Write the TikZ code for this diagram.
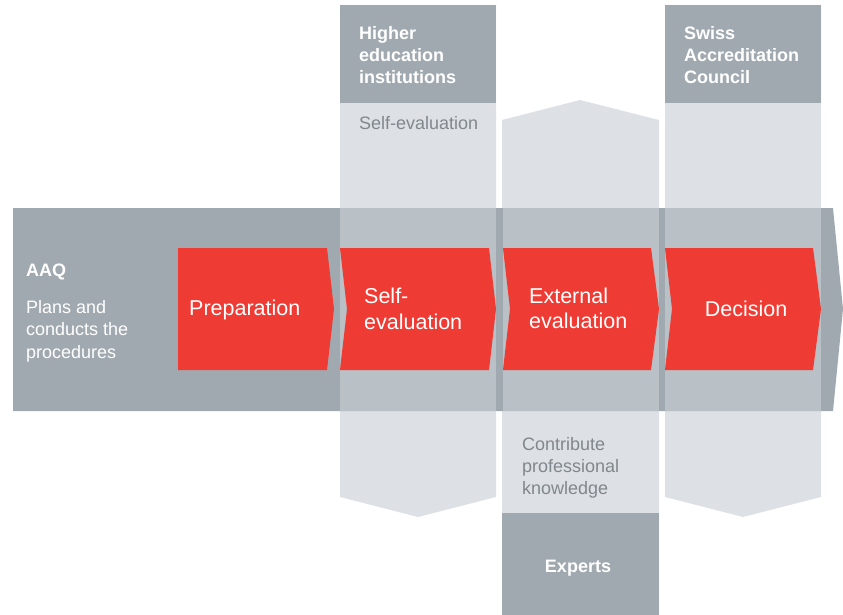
\documentclass[tikz,border=0pt]{standalone}
\usepackage{fontspec}
\setmainfont{Liberation Sans}
\definecolor{aaqred}{HTML}{EE3B33}
\definecolor{darkgrey}{HTML}{A1A9B0}
\definecolor{colgrey}{HTML}{DDE0E4}
\definecolor{bandgrey}{HTML}{B9C0C6}
\definecolor{textgrey}{HTML}{80878D}
\tikzset{
  head/.style={text=white, font=\fontsize{18}{22}\selectfont\bfseries, align=left, anchor=west, inner sep=0pt},
  role/.style={text=textgrey, font=\fontsize{18}{22}\selectfont, align=left, anchor=west, inner sep=0pt},
  steplabel/.style={text=white, font=\fontsize{21.5}{25.5}\selectfont, align=left, anchor=west, inner sep=0pt}
}
\begin{document}
\begin{tikzpicture}[x=1pt,y=-1pt]
 \useasboundingbox (0,0) rectangle (843,615);

 %columns behind the band
 \fill [colgrey] (340,5) -- (496,5) -- (496,497) -- (418,517) -- (340,497) -- cycle;
 \fill [colgrey] (502,120) -- (580,100) -- (659,120) -- (659,615) -- (502,615) -- cycle;
 \fill [colgrey] (665,5) -- (821,5) -- (821,497) -- (743,517) -- (665,497) -- cycle;

 %dark heads of the columns
 \fill [darkgrey] (340,5) rectangle (496,103);
 \fill [darkgrey] (665,5) rectangle (821,103);
 \fill [darkgrey] (502,513) rectangle (659,615);

 %band
 \fill [darkgrey] (13,208) -- (833,208) -- (843,309) -- (833,411) -- (13,411) -- cycle;
 \fill [bandgrey] (340,208) rectangle (496,411);
 \fill [bandgrey] (503,208) rectangle (659,411);
 \fill [bandgrey] (665,208) rectangle (821,411);

 %steps
 \fill [aaqred] (178,248) -- (327,248) -- (334,309) -- (327,370) -- (178,370) -- cycle;
 \fill [aaqred] (340,248) -- (489,248) -- (496,309) -- (489,370) -- (340,370) -- (347,309) -- cycle;
 \fill [aaqred] (503,248) -- (651,248) -- (659,309) -- (651,370) -- (503,370) -- (510,309) -- cycle;
 \fill [aaqred] (665,248) -- (813,248) -- (821,309) -- (813,370) -- (665,370) -- (672,309) -- cycle;

 %texts of the band
 \node [head] (aaq) at (26,272) {AAQ};
 \node [steplabel, font=\fontsize{18}{22.5}\selectfont] (aaqrole) at (26,331) {Plans and\\conducts the\\procedures};
 \node [steplabel] (prep) at (189,310) {Preparation};
 \node [steplabel] (self) at (364,309) {Self-\\evaluation};
 \node [steplabel] (ext) at (529,308.5) {External\\evaluation};
 \node [steplabel, anchor=center] (dec) at (746,309) {Decision};

 %texts of the columns
 \node [head] (hei) at (359,55) {Higher\\education\\institutions};
 \node [role] (heirole) at (359,123) {Self-evaluation};
 \node [head] (sac) at (684,55.5) {Swiss\\Accreditation\\Council};
 \node [role] (exprole) at (522,468) {Contribute\\professional\\knowledge};
 \node [head, anchor=center] (exp) at (578,568) {Experts};
\end{tikzpicture}
\end{document}
